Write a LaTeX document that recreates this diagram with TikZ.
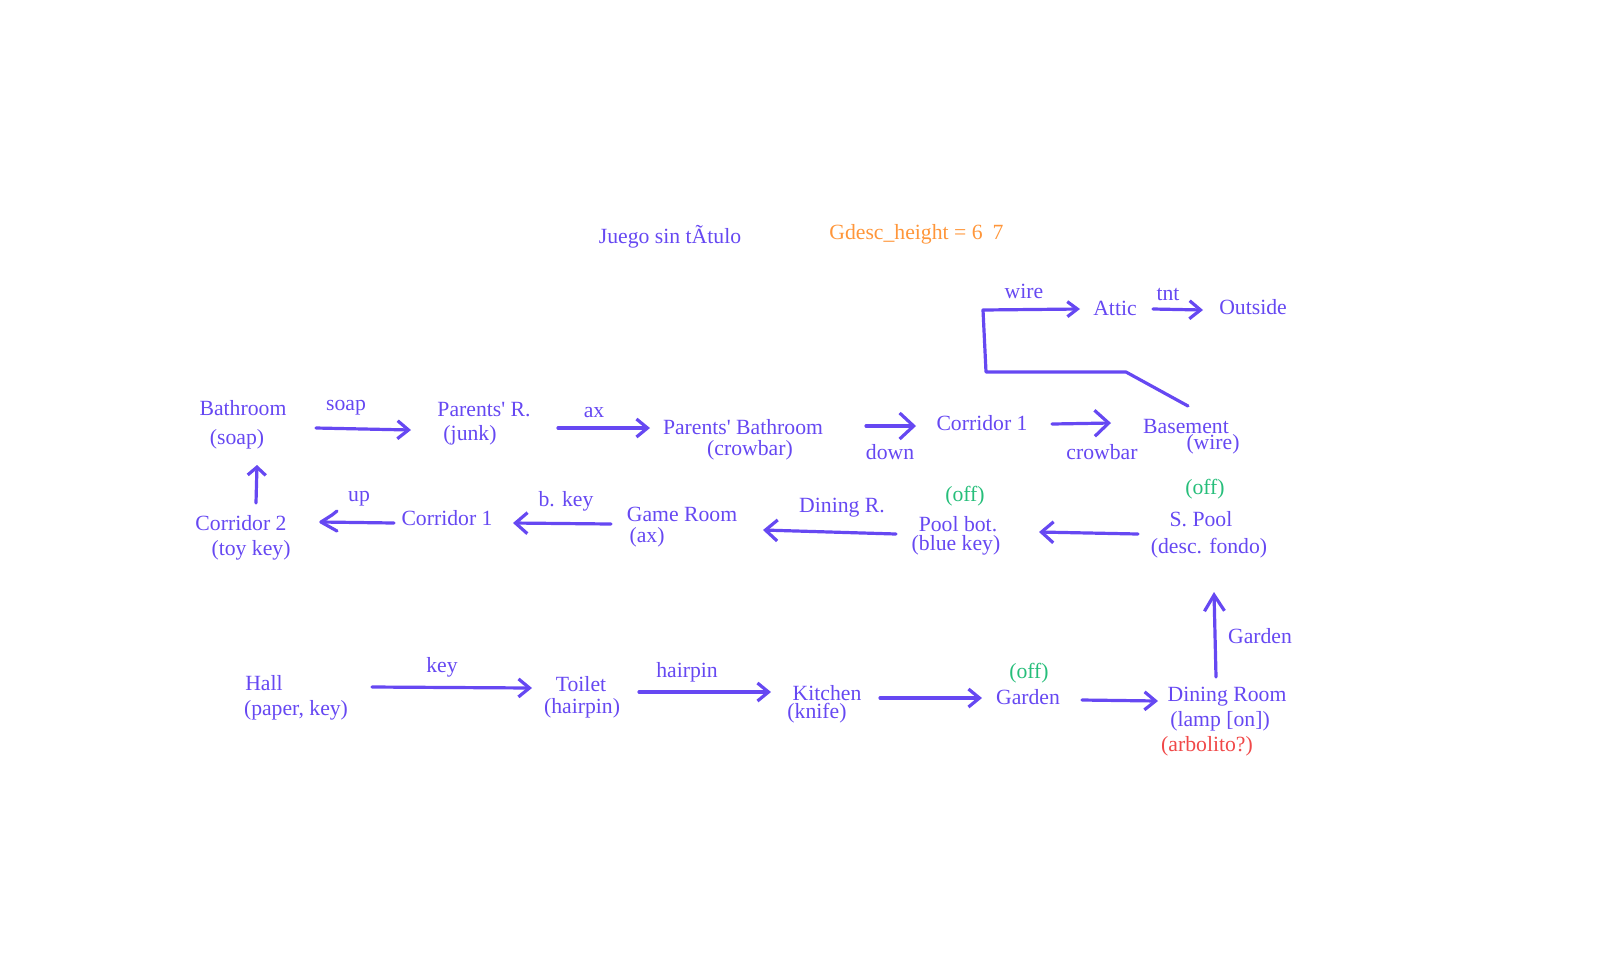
\documentclass[tikz,border=0pt]{standalone}
\usepackage{fontspec}
\setmainfont{Liberation Serif}[Ligatures=TeXOff]
\usetikzlibrary{arrows.meta}
\definecolor{purp}{RGB}{102,72,242}
\definecolor{offgreen}{RGB}{38,190,122}
\definecolor{orng}{RGB}{255,150,58}
\definecolor{redish}{RGB}{240,72,72}

\begin{document}
\begin{tikzpicture}[x=0.5pt,y=-0.5pt,
    txt/.style={inner sep=0pt,text=purp,font=\fontsize{10.85}{13}\selectfont},
    off/.style={txt,text=offgreen},
    ln/.style={draw=purp,line width=1.6pt,line cap=round,line join=round},
    arr/.style={ln,-{Straight Barb[length=5.5pt,width=9pt]}},
    bigarr/.style={ln,-{Straight Barb[length=7pt,width=13pt]}},
    midarr/.style={ln,-{Straight Barb[length=6pt,width=10.5pt]}}]
            \useasboundingbox (0,0) rectangle (1600,960);

            \node[txt] (title) at (670,237) {Juego sin tÃtulo};
            \node[txt,text=orng] (gdesc) at (906,234) {Gdesc\_height = 6};
            \node[txt,text=orng] (gsev) at (998,232) {7};

            \node[txt] (bath) at (243,408) {Bathroom};
            \node[txt] (bathI) at (237,439) {(soap)};
            \node[txt] (parR) at (484,410) {Parents' R.};
            \node[txt] (parRI) at (470,435) {(junk)};
            \node[txt] (parB) at (743,427) {Parents' Bathroom};
            \node[txt] (parBI) at (750,450) {(crowbar)};
            \node[txt] (corA) at (982,423) {Corridor 1};
            \node[txt] (base) at (1186,426) {Basement};
            \node[txt] (baseI) at (1213,444) {(wire)};
            \node[txt] (attic) at (1115,308) {Attic};
            \node[txt] (out) at (1253,307) {Outside};

            \node[txt] (corT) at (241,523) {Corridor 2};
            \node[txt] (corTI) at (251,550) {(toy key)};
            \node[txt] (corB) at (447,518) {Corridor 1};
            \node[txt] (game) at (682,514) {Game Room};
            \node[txt] (gameI) at (647,537) {(ax)};
            \node[off] (poolO) at (965,496) {(off)};
            \node[txt] (pool) at (958,524) {Pool bot.};
            \node[txt] (poolI) at (956,545) {(blue key)};
            \node[off] (sPoolO) at (1205,489) {(off)};
            \node[txt] (sPool) at (1201,519) {S. Pool};
            \node[txt] (sPoolI) at (1209,548) {(desc. fondo)};

            \node[txt] (hall) at (264,683) {Hall};
            \node[txt] (hallI) at (296,710) {(paper, key)};
            \node[txt] (toilet) at (581,684) {Toilet};
            \node[txt] (toiletI) at (582,708) {(hairpin)};
            \node[txt] (kitch) at (827,693) {Kitchen};
            \node[txt] (kitchI) at (817,713) {(knife)};
            \node[off] (gardO) at (1029,673) {(off)};
            \node[txt] (gard) at (1028,697) {Garden};
            \node[txt] (dinR) at (1227,697) {Dining Room};
            \node[txt] (dinRI) at (1220,721) {(lamp [on])};
            \node[txt,text=redish] (dinRN) at (1207,746) {(arbolito?)};

            \node[txt] (lSoap) at (346,408) {soap};
            \node[txt] (lAx) at (594,413) {ax};
            \node[txt] (lDown) at (890,452) {down};
            \node[txt] (lCrow) at (1102,452) {crowbar};
            \node[txt] (lWire) at (1024,291) {wire};
            \node[txt] (lTnt) at (1168,294) {tnt};
            \node[txt] (lUp) at (359,499) {up};
            \node[txt] (lBKey) at (566,501) {b. key};
            \node[txt] (lDin) at (842,508) {Dining R.};
            \node[txt] (lKey) at (442,667) {key};
            \node[txt] (lHair) at (687,672) {hairpin};
            \node[txt] (lGard) at (1260,636) {Garden};

            \coordinate (soapA) at (316,428);
            \coordinate (soapB) at (411,430);
            \coordinate (axA) at (558,428);
            \coordinate (axB) at (650,428);
            \coordinate (downA) at (866,426);
            \coordinate (downB) at (916,426);
            \coordinate (crowA) at (1052,424);
            \coordinate (crowB) at (1111,423);
            \coordinate (wireA) at (1188,406);
            \coordinate (wireB) at (1126,372);
            \coordinate (wireC) at (986,372);
            \coordinate (wireD) at (983,310);
            \coordinate (wireE) at (1080,309);
            \coordinate (tntA) at (1153,309);
            \coordinate (tntB) at (1203,310);
            \coordinate (corTA) at (256,503);
            \coordinate (corTB) at (257,465);
            \coordinate (upA) at (394,523);
            \coordinate (upB) at (321,522);
            \coordinate (upC) at (337,531);
            \coordinate (upD) at (332,515);
            \coordinate (upE) at (337,511);
            \coordinate (bKeyA) at (611,524);
            \coordinate (bKeyB) at (513,523);
            \coordinate (dinA) at (896,534);
            \coordinate (dinB) at (763,530);
            \coordinate (sPoolA) at (1138,534);
            \coordinate (sPoolB) at (1039,532);
            \coordinate (keyA) at (372,687);
            \coordinate (keyB) at (532,688);
            \coordinate (hairA) at (639,692);
            \coordinate (hairB) at (771,692);
            \coordinate (kitchA) at (880,698);
            \coordinate (kitchB) at (982,698);
            \coordinate (gardA) at (1082,700);
            \coordinate (gardB) at (1158,701);
            \coordinate (upGA) at (1216,677);
            \coordinate (upGB) at (1214,592);

            \draw[arr] (soapA)--(soapB);
            \draw[arr] (axA)--(axB);
            \draw[bigarr] (downA)--(downB);
            \draw[bigarr] (crowA)--(crowB);
            \draw[ln,-{Straight Barb[length=5pt,width=7.5pt]}] (wireA)--(wireB)--(wireC)--(wireD)--(wireE);
            \draw[arr] (tntA)--(tntB);
            \draw[ln,-{Straight Barb[length=4pt,width=9pt]}] (corTA)--(corTB);
            \draw[ln] (upA)--(upB);
            \draw[ln] (upC)--(upB)--(upD)--(upE);
            \draw[midarr] (bKeyA)--(bKeyB);
            \draw[midarr] (dinA)--(dinB);
            \draw[midarr] (sPoolA)--(sPoolB);
            \draw[arr] (keyA)--(keyB);
            \draw[arr] (hairA)--(hairB);
            \draw[arr] (kitchA)--(kitchB);
            \draw[arr] (gardA)--(gardB);
            \draw[ln,-{Straight Barb[length=8pt,width=10pt]}] (upGA)--(upGB);
        \end{tikzpicture}
\end{document}
